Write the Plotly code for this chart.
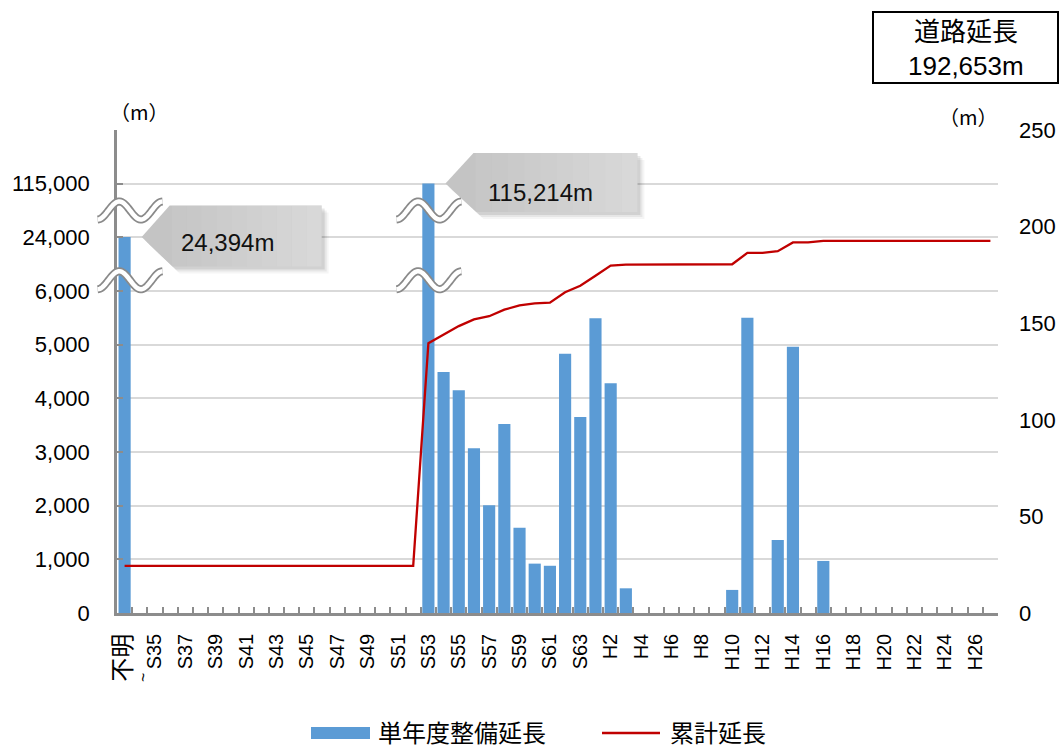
import numpy as np
import plotly.graph_objects as go

# ---- data -------------------------------------------------------------
categories = (["不明~S33"] + [f"S{n}" for n in range(34, 64)]
              + [f"H{n}" for n in range(1, 28)])

# annual constructed length (m)
annual_m = [
    24394,                                   # 不明~S33
    0, 0, 0, 0, 0, 0, 0, 0, 0, 0,            # S34-S43
    0, 0, 0, 0, 0, 0, 0, 0, 0,               # S44-S52
    115214,                                  # S53
    4490, 4150, 3070, 2010, 3520, 1590, 920, 880, 4830, 3650,   # S54-S63
    5490, 4280, 460,                         # H1-H3
    0, 0, 0, 0, 0, 0,                        # H4-H9
    430, 5500, 0, 1360, 4960, 0, 970,        # H10-H16
    0, 0, 0, 0, 0, 0, 0, 0, 0, 0, 0,         # H17-H27
]

# cumulative length (right axis)
cumulative = [
    24.4, 24.4, 24.4, 24.4, 24.4, 24.4, 24.4, 24.4, 24.4, 24.4,
    24.4, 24.4, 24.4, 24.4, 24.4, 24.4, 24.4, 24.4, 24.4, 24.4,
    139.6, 144.0, 148.5, 152.0, 153.6, 157.0, 159.2, 160.3, 160.6, 166.0, 169.4,
    174.6, 179.8, 180.3,
    180.3, 180.3, 180.3, 180.3, 180.3, 180.3,
    180.5, 186.4, 186.4, 187.3, 191.8, 191.8, 192.65,
    192.65, 192.65, 192.65, 192.65, 192.65, 192.65, 192.65, 192.65, 192.65, 192.65, 192.65,
]

road_length_m = 192653

left_tick_values = [0, 1000, 2000, 3000, 4000, 5000, 6000, 24000, 115000]
right_tick_values = [0, 50, 100, 150, 200, 250]

# broken left axis: linear up to 6,000, then one grid step per segment
BREAKS = [(6000, 24000), (24000, 115000)]


def to_axis(v):
    """Map a real length onto the broken left axis."""
    if v <= BREAKS[0][0]:
        return v
    if v <= BREAKS[0][1]:
        lo, hi = BREAKS[0]
        return 6000 + (v - lo) / (hi - lo) * 1000
    lo, hi = BREAKS[1]
    return 7000 + (v - lo) / (hi - lo) * 1000


bar_axis = [to_axis(v) for v in annual_m]
tick_axis = [to_axis(v) for v in left_tick_values] + [9000]
tick_text = [f"{v:,}" for v in left_tick_values] + [""]

xtick_text = [("<span style='font-size:24px'>不明</span>" if i == 0 else c)
              if i % 2 == 0 else ""
              for i, c in enumerate(categories)]

# ---- geometry helpers (pixel <-> paper) --------------------------------
W, H = 1062, 749
ML, MR, MT, MB = 117, 64, 130, 136
PW, PH = W - ML - MR, H - MT - MB
N = len(categories)
YMAX = 9000


def px_x(i):
    return ML + (i + 0.5) * PW / N


def px_y(v):
    return MT + PH - v * PH / YMAX


def to_paper(x, y):
    return (x - ML) / PW, (MT + PH - y) / PH


def path_from_px(points, close=False):
    parts = []
    for k, (x, y) in enumerate(points):
        px_, py_ = to_paper(x, y)
        parts.append(("M" if k == 0 else "L") + f"{px_:.5f},{py_:.5f}")
    return " ".join(parts) + (" Z" if close else "")


BLUE = "#5B9BD5"
RED = "#C00000"
AXIS = "#8C8C8C"
GRID = "#D9D9D9"
FONT = "Liberation Sans, Arial, Noto Sans CJK JP, sans-serif"

fig = go.Figure()
fig.add_trace(go.Bar(
    x=categories, y=bar_axis, name="単年度整備延長",
    marker=dict(color=BLUE, line=dict(width=0)),
    customdata=annual_m, hovertemplate="%{x}: %{customdata:,}m<extra></extra>",
))
fig.add_trace(go.Scatter(
    x=categories, y=cumulative, name="累計延長", yaxis="y2",
    mode="lines", line=dict(color=RED, width=2.3),
))

shapes = []
annotations = []


# ---- axis-break squiggles ---------------------------------------------
def squiggle(cx, cy):
    t = np.linspace(0, 1, 60)
    xs = cx - 32 + 65 * t
    ys = cy - 9 * np.sin(-np.pi / 2 + 3 * np.pi * t)
    pts = list(zip(xs, ys))
    d = path_from_px(pts)
    shapes.append(dict(type="path", path=d, xref="paper", yref="paper",
                       line=dict(color="#8A8A8A", width=8), layer="above"))
    shapes.append(dict(type="path", path=d, xref="paper", yref="paper",
                       line=dict(color="white", width=4.5), layer="above"))


for idx, dx in [(0, 5), (20, 0)]:
    squiggle(px_x(idx) + dx, px_y(6200))
    squiggle(px_x(idx) + dx, px_y(7500))


# ---- value callouts ---------------------------------------------------
def callout(idx, width, height, text_dx, text_dy):
    bar_half = 0.4 * PW / N
    tx = px_x(idx) + bar_half + 11
    ty = px_y(bar_axis[idx])
    top, bot = ty - height / 2 - 1, ty + height / 2 - 1
    body = [(tx, ty), (tx + 28, top), (tx + width, top),
            (tx + width, bot), (tx + 31, bot)]
    for off, alpha in [(7, 0.04), (5, 0.06), (3, 0.09)]:
        shadow = [(x + off, y + off) for x, y in body]
        shapes.append(dict(type="path", path=path_from_px(shadow, True),
                           xref="paper", yref="paper", layer="above",
                           fillcolor=f"rgba(0,0,0,{alpha})", line=dict(width=0)))
    shapes.append(dict(type="path", path=path_from_px(body, True),
                       xref="paper", yref="paper", layer="above",
                       fillcolor="#C4C4C4", line=dict(width=0)))
    # soft left-to-right lightening of the body
    steps = 10
    x0 = tx + 30
    for s in range(steps):
        xa = x0 + (width - 30) * s / steps
        xb = x0 + (width - 30) * (s + 1) / steps
        rect = [(xa, top), (xb, top), (xb, bot), (xa, bot)]
        shapes.append(dict(type="path", path=path_from_px(rect, True),
                           xref="paper", yref="paper", layer="above",
                           fillcolor=f"rgba(255,255,255,{0.05 + 0.32 * s / steps:.3f})",
                           line=dict(width=0)))
    ax_, ay_ = to_paper(tx + text_dx, ty + text_dy)
    annotations.append(dict(x=ax_, y=ay_, xref="paper", yref="paper",
                            text=f"{annual_m[idx]:,}m", showarrow=False,
                            font=dict(size=24, color="#111111", family=FONT),
                            xanchor="center", yanchor="middle"))


callout(0, 180, 61, 86, 5)
callout(20, 192, 59, 95, 9)

# ---- road length box --------------------------------------------------
bx0, by0, bx1, by1 = 873, 12, 1058, 83
p0 = to_paper(bx0, by0)
p1 = to_paper(bx1, by1)
shapes.append(dict(type="rect", xref="paper", yref="paper",
                   x0=p0[0], y0=p0[1], x1=p1[0], y1=p1[1],
                   line=dict(color="black", width=2), fillcolor="white"))
for txt, yy in [("道路延長", 32), (f"{road_length_m:,}m", 66)]:
    q = to_paper((bx0 + bx1) / 2, yy)
    annotations.append(dict(x=q[0], y=q[1], xref="paper", yref="paper",
                            text=txt, showarrow=False,
                            font=dict(size=26, color="black", family=FONT),
                            xanchor="center", yanchor="middle"))

# ---- unit labels ------------------------------------------------------
for (ux, uy) in [(139, 112), (968, 116)]:
    q = to_paper(ux, uy)
    annotations.append(dict(x=q[0], y=q[1], xref="paper", yref="paper",
                            text="（m）", showarrow=False,
                            font=dict(size=20, color="black",
                                      family="Noto Sans CJK JP"),
                            xanchor="center", yanchor="middle"))

# wave mark under the first category label
q = to_paper(143, 678)
annotations.append(dict(x=q[0], y=q[1], xref="paper", yref="paper",
                        text="~", textangle=-90, showarrow=False,
                        font=dict(size=16, color="black", family=FONT),
                        xanchor="center", yanchor="middle"))

# ---- legend -----------------------------------------------------------
l0 = to_paper(311, 727)
l1 = to_paper(370, 739)
shapes.append(dict(type="rect", xref="paper", yref="paper",
                   x0=l0[0], y0=l0[1], x1=l1[0], y1=l1[1],
                   fillcolor=BLUE, line=dict(width=0)))
r0 = to_paper(602, 733)
r1 = to_paper(660, 733)
shapes.append(dict(type="line", xref="paper", yref="paper",
                   x0=r0[0], y0=r0[1], x1=r1[0], y1=r1[1],
                   line=dict(color=RED, width=2.5)))
for txt, lx in [(fig.data[0].name, 377), (fig.data[1].name, 669)]:
    q = to_paper(lx, 731)
    annotations.append(dict(x=q[0], y=q[1], xref="paper", yref="paper",
                            text=txt, showarrow=False,
                            font=dict(size=24, color="black",
                                      family="Noto Sans CJK JP"),
                            xanchor="left", yanchor="middle", borderpad=0))

fig.update_layout(
    width=W, height=H,
    margin=dict(l=ML, r=MR, t=MT, b=MB, pad=0, autoexpand=False),
    paper_bgcolor="white", plot_bgcolor="white",
    showlegend=False, bargap=0.2,
    font=dict(family=FONT, color="black"),
    shapes=shapes, annotations=annotations,
    xaxis=dict(
        type="category", categoryorder="array", categoryarray=categories,
        range=[-0.5, N - 0.5], tickmode="array", tickvals=categories,
        ticktext=xtick_text, tickangle=-90, tickson="boundaries",
        ticks="inside", ticklen=6, tickwidth=2, tickcolor=AXIS,
        showline=True, linecolor=AXIS, linewidth=2.5, showgrid=False,
        tickfont=dict(size=20, family=FONT), ticklabelstandoff=10,
        automargin=False,
    ),
    yaxis=dict(
        range=[0, YMAX], tickmode="array", tickvals=tick_axis,
        ticktext=tick_text, showgrid=True, gridcolor=GRID, gridwidth=1.6,
        zeroline=False, showline=True, linecolor=AXIS, linewidth=2.5,
        ticks="inside", ticklen=6, tickwidth=2, tickcolor=AXIS,
        tickfont=dict(size=22, family=FONT), ticklabelstandoff=20,
        automargin=False,
    ),
    yaxis2=dict(
        range=[0, 250], tickmode="array", tickvals=right_tick_values,
        overlaying="y", side="right", showgrid=False, zeroline=False,
        showline=False, ticks="", tickfont=dict(size=22, family=FONT),
        ticklabelstandoff=20, automargin=False,
    ),
)

fig.write_html("out.html")
